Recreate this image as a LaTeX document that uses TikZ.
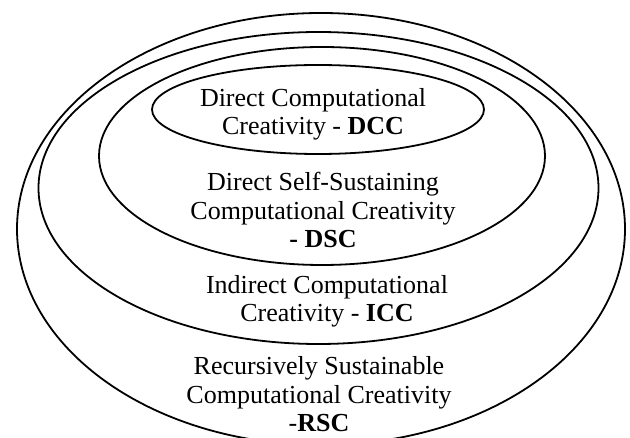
\documentclass[tikz,border=0pt]{standalone}
\usepackage{fontspec}
\setmainfont{Liberation Serif}
\usepackage{tikz}
\usetikzlibrary{positioning}

\begin{document}
\begin{tikzpicture}[x=1pt, y=-1pt, line width=1.8pt,
	label/.style={align=center, inner sep=0pt, anchor=base,
		font=\fontsize{26}{28.5}\selectfont}]
			\useasboundingbox (0, 0) rectangle (630, 438);
			\coordinate (R) at (321, 229);
			\coordinate (I) at (318.5, 188);
			\coordinate (S) at (322, 156);
			\coordinate (D) at (318, 109.5);
			
			\draw (R) ellipse [x radius=304, y radius=216];
			\draw (I) ellipse [x radius=280, y radius=156];
			\draw (S) ellipse [x radius=223, y radius=109];
			\draw (D) ellipse [x radius=166, y radius=44.5];
			
			% base anchor sits on the last line
			\node[label] (dcc) at (313, 135) {Direct Computational\\Creativity - \textbf{DCC}};
			\node[label] (dsc) at (323, 248) {Direct Self-Sustaining\\Computational Creativity\\\textbf{- DSC}};
			\node[label] (icc) at (327, 322) {Indirect Computational\\Creativity - \textbf{ICC}};
			\node[label] (rsc) at (319, 432) {Recursively Sustainable\\Computational Creativity\\-\textbf{RSC}};
			\end{tikzpicture}
\end{document}
